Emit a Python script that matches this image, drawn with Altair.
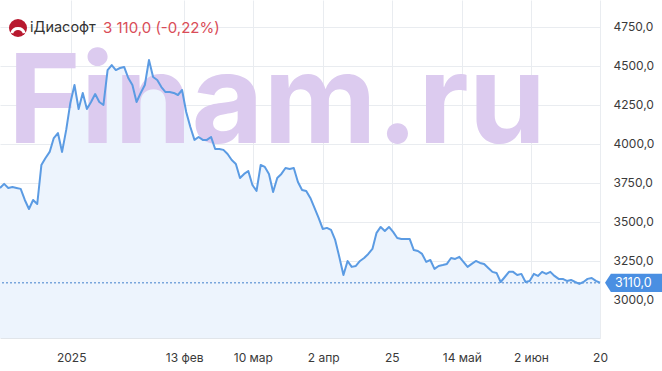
import json
import altair as alt
import pandas as pd

# ---- data ----
prices = [
    3718, 3744, 3718, 3724, 3718, 3712, 3641, 3583, 3641, 3615,
    3865, 3910, 3949, 4038, 4070, 3949, 4090, 4263, 4378, 4224,
    4327, 4224, 4269, 4320, 4269, 4250, 4474, 4506, 4474, 4487,
    4494, 4423, 4378, 4269, 4327, 4378, 4538, 4429, 4410, 4365,
    4333, 4333, 4327, 4314, 4346, 4205, 4109, 4026, 4045, 4026,
    4026, 4045, 3968, 3968, 3962, 3936, 3897, 3872, 3782, 3808,
    3827, 3737, 3699, 3865, 3853, 3808, 3692, 3782, 3808, 3846,
    3840, 3846, 3756, 3705, 3699, 3654, 3590, 3526, 3455, 3462,
    3449, 3385, 3276, 3160, 3250, 3212, 3218, 3250, 3269, 3295,
    3327, 3430, 3468, 3442, 3468, 3436, 3397, 3391, 3391, 3391,
    3320, 3314, 3295, 3244, 3256, 3199, 3218, 3224, 3231, 3269,
    3263, 3276, 3244, 3212, 3231, 3250, 3237, 3231, 3205, 3180,
    3173, 3115, 3147, 3180, 3180, 3160, 3167, 3115, 3122, 3167,
    3154, 3180, 3167, 3180, 3154, 3135, 3135, 3122, 3128, 3115,
    3103, 3115, 3135, 3141, 3122, 3110,
]
y_ticks = [3000, 3250, 3500, 3750, 4000, 4250, 4500, 4750]
x_tick_pos = [17.2, 44.5, 61.1, 78.1, 94.7, 111.6, 128.3, 145]
x_tick_labels = ["2025", "13 фев", "10 мар", "2 апр", "25", "14 май", "2 июн", "20"]
ticker_name = "iДиасофт"
change_pct = -0.22
watermark = "Finam.ru"
y_domain = [2756, 4923]

# ---- derived tables ----
last_price = prices[-1]
df = pd.DataFrame({"i": list(range(len(prices))), "price": prices})
last_df = pd.DataFrame({"price": [last_price],
                        "label": [f"{last_price:.1f}".replace(".", ",")]})
price_txt = f"{last_price:,.1f}".replace(",", " ").replace(".", ",")
chg_txt = f"{change_pct:.2f}".replace(".", ",")
header_df = pd.DataFrame({"name": [ticker_name],
                          "quote": [f"{price_txt} ({chg_txt}%)"]})
wm_df = pd.DataFrame({"t": [watermark]})

FONT = "Inter"
GRID = "#e9ecf0"
LABEL = "#3a3a3a"

label_expr = (json.dumps(x_tick_labels, ensure_ascii=False).replace('"', "'")
              + "[indexof(" + json.dumps(x_tick_pos) + ", datum.value)]")

x_enc = alt.X(
    "i:Q",
    scale=alt.Scale(domain=[0, len(prices) - 1], nice=False, zero=False),
    axis=alt.Axis(values=x_tick_pos, labelExpr=label_expr, grid=True,
                  gridColor=GRID, ticks=False, domain=True, domainColor="#e1e5ea",
                  labelColor=LABEL, labelFont=FONT, labelFontSize=12,
                  labelPadding=14, title=None, labelFlush=False),
)
y_enc = alt.Y(
    "price:Q",
    scale=alt.Scale(domain=y_domain, nice=False, zero=False),
    axis=alt.Axis(orient="right", values=y_ticks,
                  labelExpr="replace(format(datum.value, '.1f'), '.', ',')",
                  grid=True, gridColor=GRID, ticks=False, domain=False,
                  labelColor=LABEL, labelFont=FONT, labelFontSize=12,
                  labelPadding=13, labelAlign="left", title=None),
)

base = alt.Chart(df)

area = base.mark_area(color="#edf4fd").encode(
    x=x_enc, y=y_enc, y2=alt.datum(y_domain[0]))

wm = alt.Chart(wm_df).mark_text(
    font=FONT, fontSize=124, fontWeight="bold", color="#dccbef",
    align="left", baseline="alphabetic").encode(
    x=alt.value(8), y=alt.value(143), text="t:N")

dotted = alt.Chart(last_df).mark_rule(
    color="#7aa6dc", strokeWidth=1.5, strokeDash=[2, 2]).encode(y="price:Q")

line = base.mark_line(color="#5b9be3", strokeWidth=2, strokeJoin="round").encode(
    x="i:Q", y="price:Q")

box_path = "M -1 0 L -0.8 -0.31 L 1 -0.31 L 1 0.31 L -0.8 0.31 Z"
box = alt.Chart(last_df).mark_point(
    shape=box_path, filled=True, color="#4a8fe2", opacity=1, strokeWidth=0,
    size=59 * 59).encode(x=alt.value(634.5), y="price:Q")
box_text = alt.Chart(last_df).mark_text(
    font=FONT, fontSize=12.5, color="white", align="left", baseline="middle").encode(
    x=alt.value(615), y="price:Q", text="label:N")

logo = alt.Chart(header_df).mark_point(
    shape="circle", filled=True, color="#b8192f", opacity=1, size=324).encode(
    x=alt.value(18), y=alt.value(28))
logo_arc = alt.Chart(header_df).mark_arc(
    color="white", radius=8, radius2=5, theta=5.0, theta2=7.56).encode(
    x=alt.value(18), y=alt.value(35))

name_text = alt.Chart(header_df).mark_text(
    font=FONT, fontSize=14.5, color="#333333", align="left", baseline="middle").encode(
    x=alt.value(30), y=alt.value(28), text="name:N")
quote_text = alt.Chart(header_df).mark_text(
    font=FONT, fontSize=15, color="#d94c57", align="left", baseline="middle").encode(
    x=alt.value(103), y=alt.value(28), text="quote:N")

chart = alt.layer(
    area, wm, dotted, line, box, box_text, logo, logo_arc, name_text, quote_text
).properties(
    width=600, height=338,
    padding={"left": 0, "top": 0, "right": 62, "bottom": 33},
    autosize=alt.AutoSizeParams(type="none"),
    background="white",
).configure_view(stroke=None)

chart.save("out.html", embed_options={"renderer": "svg", "actions": False})
